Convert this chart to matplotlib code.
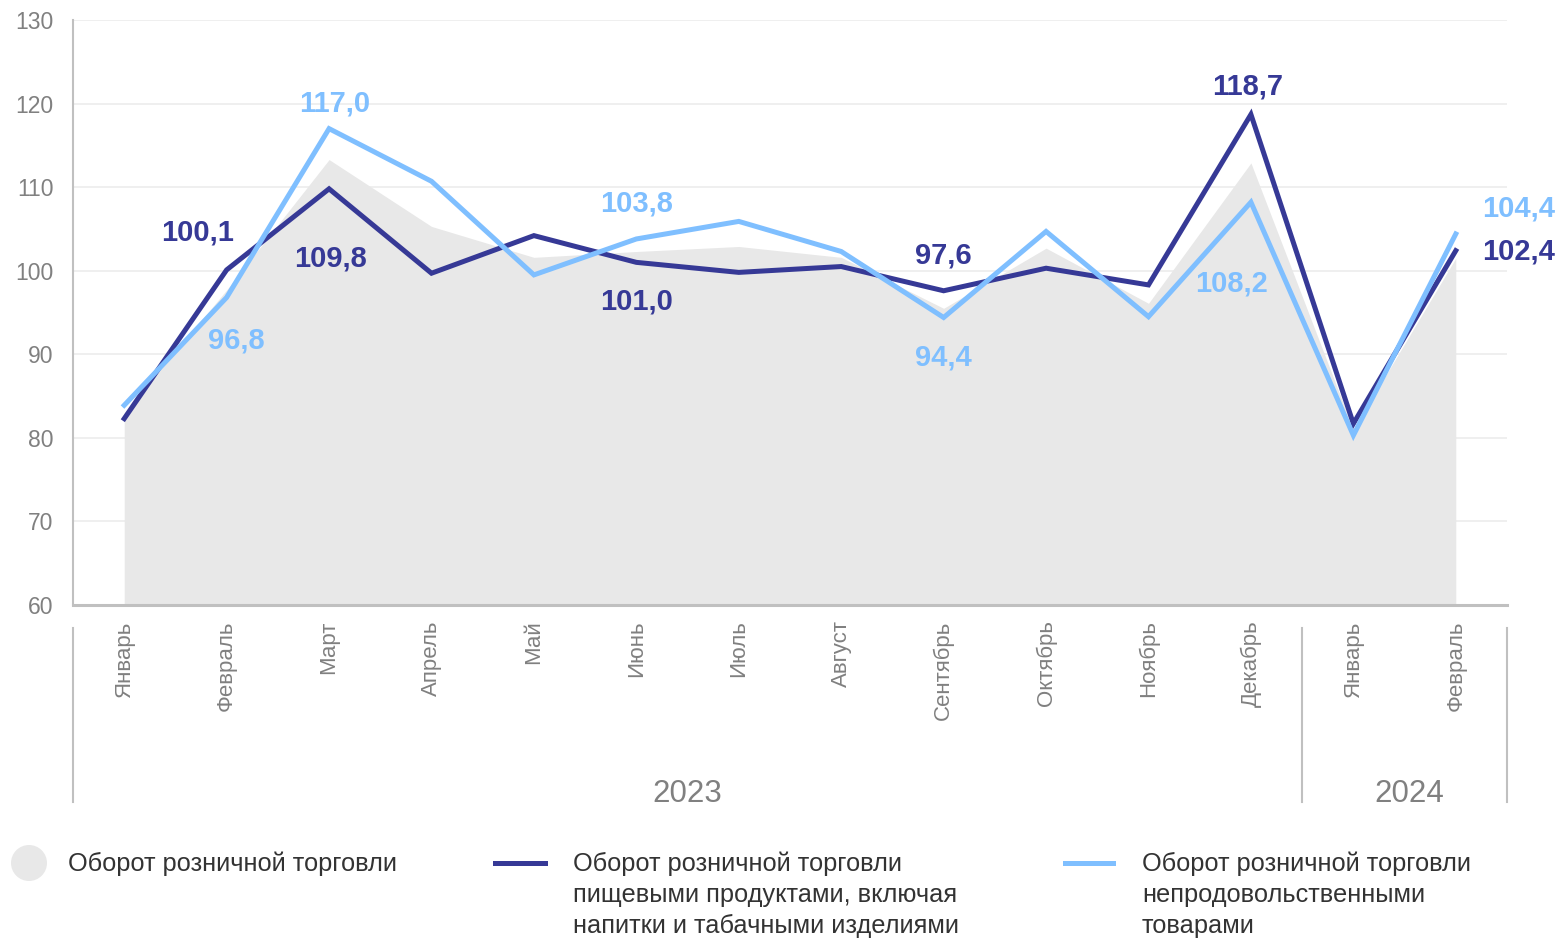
import matplotlib
matplotlib.use("Agg")
import matplotlib.pyplot as plt
from matplotlib.lines import Line2D
from matplotlib.patches import Ellipse
import matplotlib.transforms as mtransforms

plt.rcParams["font.family"] = ["Liberation Sans", "DejaVu Sans"]

months = ["Январь", "Февраль", "Март", "Апрель", "Май", "Июнь", "Июль",
          "Август", "Сентябрь", "Октябрь", "Ноябрь", "Декабрь", "Январь", "Февраль"]
years = ["2023", "2024"]
year_centers = [5.5, 12.55]
year_splits = [-0.5, 11.5, 13.5]

total = [83.0, 97.7, 113.3, 105.3, 101.6, 102.3, 102.9, 101.6, 95.5, 102.7, 96.1, 112.9, 81.0, 101.5]
food = [82.3, 100.1, 109.8, 99.7, 104.2, 101.0, 99.8, 100.5, 97.6, 100.3, 98.3, 118.7, 81.7, 102.4]
nonfood = [83.9, 96.8, 117.0, 110.7, 99.5, 103.8, 105.9, 102.3, 94.4, 104.7, 94.5, 108.2, 80.3, 104.4]

# (index, offset in px)
food_labels = [(1, -29, 37), (2, 1, -70), (5, 0, -39), (8, 0, 35), (11, -3, 28), (13, 63, -1)]
nonfood_labels = [(1, 10, -43), (2, 6, 25), (5, 0, 35), (8, 0, -40), (11, -19, -81), (13, 63, 25)]

legend_labels = [
    "Оборот розничной торговли",
    "Оборот розничной торговли\nпищевыми продуктами, включая\nнапитки и табачными изделиями",
    "Оборот розничной торговли\nнепродовольственными\nтоварами",
]

DARK = "#363996"
LIGHT = "#7FBFFF"
FILL = "#E8E8E8"
GRID = "#EBEBEB"
AXIS = "#C0C0C0"
TICK = "#808080"

W, H = 1562, 939
fig = plt.figure(figsize=(W / 100, H / 100), dpi=100)
ax = fig.add_axes([73 / W, 1 - 605 / H, 1434 / W, 585 / H])

x = list(range(len(months)))
ax.fill_between(x, 60, total, color=FILL, linewidth=0, zorder=1)
ax.plot(x, food, color=DARK, linewidth=3.6, solid_joinstyle="miter", zorder=3)
ax.plot(x, nonfood, color=LIGHT, linewidth=3.6, solid_joinstyle="miter", zorder=4)

def fmt(v):
    return f"{v:.1f}".replace(".", ",")

for i, dx, dy in food_labels:
    ax.annotate(fmt(food[i]), (i, food[i]), xytext=(dx, dy), textcoords="offset pixels",
                ha="center", va="center", fontsize=21, fontweight="bold", color=DARK,
                zorder=5, annotation_clip=False)
for i, dx, dy in nonfood_labels:
    ax.annotate(fmt(nonfood[i]), (i, nonfood[i]), xytext=(dx, dy), textcoords="offset pixels",
                ha="center", va="center", fontsize=21, fontweight="bold", color=LIGHT,
                zorder=5, annotation_clip=False)

ax.set_xlim(-0.5, 13.5)
ax.set_ylim(60, 130)
ax.set_yticks(range(60, 131, 10))
ax.yaxis.grid(True, color=GRID, linewidth=1.1, zorder=0)
ax.set_axisbelow(True)
ax.tick_params(axis="y", length=0, pad=14, labelsize=16.5, labelcolor=TICK)
ax.set_xticks(x)
ax.set_xticklabels(months, rotation=90, ha="center", va="top")
ax.tick_params(axis="x", length=0, pad=11, labelsize=16, labelcolor=TICK)

for s in ["top", "right"]:
    ax.spines[s].set_visible(False)
ax.spines["left"].set_color(AXIS)
ax.spines["left"].set_linewidth(1.5)
ax.spines["bottom"].set_color(AXIS)
ax.spines["bottom"].set_linewidth(2.2)
ax.spines["bottom"].set_zorder(6)

# year groups under the month labels
trans = mtransforms.blended_transform_factory(ax.transData, ax.transAxes)
for xs in year_splits:
    ax.add_line(Line2D([xs, xs], [-0.039, -0.337], transform=trans, color=AXIS,
                       linewidth=1.5, clip_on=False))
for xc, yl in zip(year_centers, years):
    ax.text(xc, -0.323, yl, transform=trans, ha="center", va="center",
            fontsize=22.5, color=TICK)

# legend
fig.add_artist(Ellipse((29 / W, 1 - 863 / H), 36 / W, 36 / H, transform=fig.transFigure,
                       color=FILL, linewidth=0))
fig.add_artist(Line2D([495 / W, 545 / W], [1 - 863 / H] * 2, transform=fig.transFigure,
                      color=DARK, linewidth=3.6))
fig.add_artist(Line2D([1065 / W, 1113 / W], [1 - 863 / H] * 2, transform=fig.transFigure,
                      color=LIGHT, linewidth=3.6))
for xl, txt in zip([68, 573, 1142], legend_labels):
    fig.text(xl / W, 1 - 852 / H, txt, ha="left", va="top", fontsize=18.3,
             color="#333333", linespacing=1.36)

fig.savefig("out.png", dpi=100)
